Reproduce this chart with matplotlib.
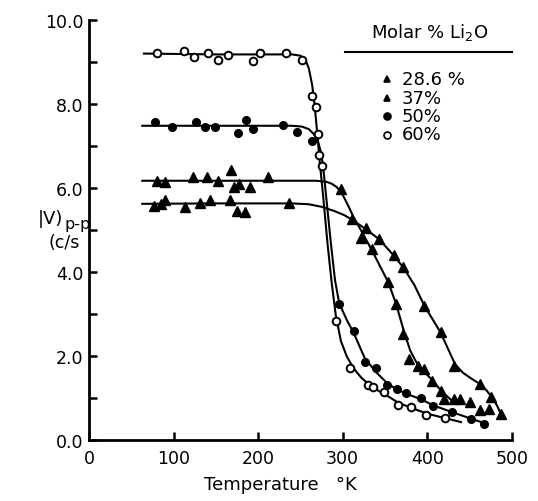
import numpy as np
import matplotlib
matplotlib.use('Agg')
import matplotlib.pyplot as plt

# measured points, temperature (K) and |V) p-p (c/s)
t_60 = [81, 112, 124, 141, 152, 164, 194, 202, 233, 252, 264, 268, 271, 272, 276,
        292, 309, 330, 336, 349, 366, 381, 399, 421]
v_60 = [9.21, 9.25, 9.13, 9.21, 9.05, 9.17, 9.03, 9.21, 9.21, 9.05, 8.2, 7.92, 7.28, 6.79, 6.51,
        2.84, 1.72, 1.30, 1.25, 1.13, 0.83, 0.79, 0.60, 0.52]

t_50 = [78, 98, 126, 137, 149, 176, 186, 194, 230, 246, 264,
        296, 313, 326, 339, 353, 364, 375, 393, 407, 429, 452, 467]
v_50 = [7.56, 7.44, 7.56, 7.46, 7.44, 7.30, 7.62, 7.40, 7.50, 7.32, 7.12,
        3.23, 2.58, 1.86, 1.71, 1.30, 1.21, 1.11, 0.99, 0.80, 0.65, 0.49, 0.37]

t_37 = [80, 90, 123, 139, 152, 168, 171, 178, 191, 212, 298,
        322, 335, 354, 363, 372, 379, 389, 396, 406, 416, 420, 432, 439, 451, 463, 473]
v_37 = [6.16, 6.13, 6.25, 6.27, 6.17, 6.43, 6.01, 6.09, 6.01, 6.25, 5.97,
        4.80, 4.54, 3.75, 3.23, 2.52, 1.92, 1.76, 1.68, 1.41, 1.17, 0.97, 0.96, 0.97, 0.89, 0.70, 0.72]

t_28 = [77, 85, 90, 114, 131, 143, 167, 175, 184, 236, 311,
        328, 343, 361, 372, 396, 416, 432, 463, 475, 487]
v_28 = [5.58, 5.62, 5.70, 5.55, 5.63, 5.70, 5.71, 5.46, 5.42, 5.64, 5.26,
        5.04, 4.78, 4.40, 4.11, 3.19, 2.56, 1.76, 1.33, 1.01, 0.61]

# hand drawn curves, knots
ct_60 = [65, 150, 240, 250, 256, 260, 264, 267, 270, 273, 277, 282, 287, 292, 298, 305, 313,
         322, 335, 350, 366, 381, 400, 420, 440]
cv_60 = [9.2, 9.18, 9.18, 9.15, 9.05, 8.85, 8.45, 7.95, 7.3, 6.6, 5.8, 4.7, 3.75, 2.95, 2.35, 1.98, 1.7,
         1.48, 1.25, 1.08, 0.88, 0.76, 0.62, 0.52, 0.42]

ct_50 = [63, 150, 240, 252, 260, 266, 271, 275, 278, 282, 286, 291, 296, 305, 313, 326, 339, 353,
         364, 375, 393, 407, 429, 452, 467]
cv_50 = [7.48, 7.48, 7.48, 7.46, 7.4, 7.28, 7.1, 6.8, 6.3, 5.5, 4.7, 3.8, 3.25, 2.85, 2.55, 1.95, 1.62,
         1.34, 1.20, 1.10, 0.96, 0.82, 0.66, 0.50, 0.40]

ct_37 = [63, 150, 250, 268, 280, 287, 293, 299, 306, 313, 322, 335, 354, 363, 372, 380, 388,
         396, 406, 416, 428]
cv_37 = [6.17, 6.17, 6.17, 6.17, 6.15, 6.1, 6.02, 5.88, 5.6, 5.3, 4.98, 4.5, 3.75, 3.25, 2.62, 2.12, 1.82,
         1.63, 1.42, 1.18, 0.95]

ct_28 = [63, 150, 240, 260, 275, 290, 302, 313, 327, 343, 360, 372, 385, 397, 407, 416, 425,
         433, 442, 452, 463, 470, 477, 483, 487]
cv_28 = [5.62, 5.63, 5.63, 5.61, 5.55, 5.45, 5.35, 5.22, 5.02, 4.78, 4.4, 4.1, 3.68, 3.18, 2.85, 2.55, 2.15,
         1.8, 1.6, 1.46, 1.32, 1.18, 1.0, 0.8, 0.62]

legend_title = 'Molar % Li$_2$O'
legend_labels = ['28.6 %', '37%', '50%', '60%']

plt.rcParams['font.family'] = 'DejaVu Sans'

W, H = 538, 502
fig = plt.figure(figsize=(W / 100, H / 100), dpi=100)
ax = fig.add_axes([89 / W, 1 - 440.7 / H, (511.7 - 89) / W, (440.7 - 21) / H])

lw = 1.5
ax.plot(ct_60, cv_60, color='black', lw=lw)
ax.plot(ct_50, cv_50, color='black', lw=lw)
ax.plot(ct_37, cv_37, color='black', lw=lw)
ax.plot(ct_28, cv_28, color='black', lw=lw)

ax.plot(t_28, v_28, '^', color='black', ms=6.5, ls='none')
ax.plot(t_37, v_37, '^', color='black', mfc='black', ms=6.5, ls='none')
ax.plot(t_50, v_50, 'o', color='black', ms=5.5, ls='none')
ax.plot(t_60, v_60, 'o', color='black', mfc='white', mew=1.4, ms=5.5, ls='none')

ax.set_xlim(0, 500)
ax.set_ylim(0, 10)
for s in ['top', 'right']:
    ax.spines[s].set_visible(False)
for s in ['left', 'bottom']:
    ax.spines[s].set_linewidth(2)

ax.set_xticks(np.arange(0, 501, 100))
ax.set_xticklabels(['0', '100', '200', '300', '400', '500'])
ax.set_yticks(np.arange(0, 11, 2))
ax.set_yticklabels(['0.0', '2.0', '4.0', '6.0', '8.0', '10.0'])
ax.set_yticks(np.arange(1, 10, 2), minor=True)
ax.tick_params(axis='both', which='major', direction='in', length=6, width=1.8,
               labelsize=12.5)
ax.tick_params(axis='x', pad=7)
ax.tick_params(axis='y', pad=4)
ax.tick_params(axis='y', which='minor', direction='in', length=6, width=1.8)

# axis labels
fig.text(280 / W, 1 - 485 / H, 'Temperature   °K', ha='center', va='center', fontsize=13)
fig.text(38 / W, 1 - 219 / H, '|V)', ha='left', va='center', fontsize=13)
fig.text(65 / W, 1 - 225 / H, 'p-p', ha='left', va='center', fontsize=11.5)
fig.text(48 / W, 1 - 243 / H, '(c/s', ha='left', va='center', fontsize=12.5)

# legend block
fig.text(430 / W, 1 - 33 / H, legend_title, ha='center', va='center', fontsize=13)
fig.add_artist(plt.Line2D([345 / W, 512 / W], [1 - 53 / H, 1 - 53 / H],
                          transform=fig.transFigure, color='black', lw=1.5))
rows = [80, 98.5, 117, 135.5]
styles = [dict(marker='^', mfc='black'), dict(marker='^', mfc='black'),
          dict(marker='o', mfc='black'), dict(marker='o', mfc='white')]
for y, lab, st in zip(rows, legend_labels, styles):
    fig.add_artist(plt.Line2D([387 / W], [1 - y / H], transform=fig.transFigure,
                              color='black', ms=5, mew=1.2, ls='none', **st))
    fig.text(402 / W, 1 - y / H, lab, ha='left', va='center', fontsize=13)

fig.savefig('out.png', dpi=100)
